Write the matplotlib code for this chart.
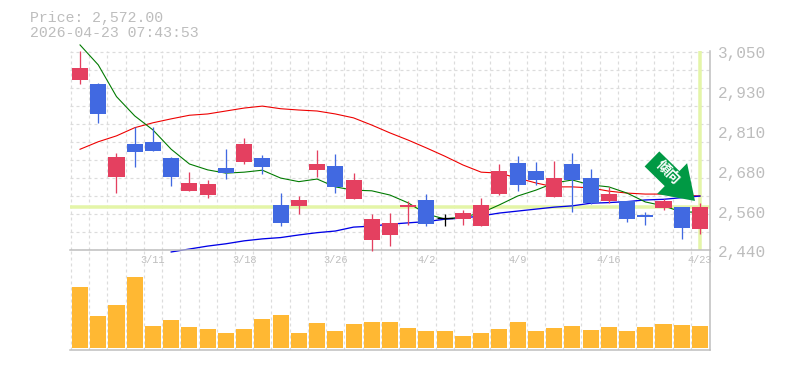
import numpy as np
import matplotlib
matplotlib.use("Agg")
import matplotlib.pyplot as plt
from matplotlib.patches import FancyArrow
from matplotlib.transforms import IdentityTransform

#daily candles, prices
dates = ["3/11", "3/18", "3/26", "4/2", "4/9", "4/16", "4/23"]
date_pos = [4, 9, 14, 19, 24, 29, 34]

opens = [2960, 2948, 2663, 2764, 2770, 2721, 2620, 2608, 2691, 2709, 2721, 2578,
         2575, 2685, 2697, 2596, 2471, 2486, 2571, 2593, 2538, 2535, 2513, 2611,
         2706, 2682, 2602, 2703, 2660, 2590, 2590, 2547, 2568, 2571, 2504]
closes = [2996, 2856, 2724, 2740, 2743, 2663, 2645, 2642, 2675, 2764, 2694, 2523,
          2593, 2703, 2633, 2654, 2535, 2523, 2578, 2519, 2538, 2553, 2578, 2682,
          2639, 2654, 2660, 2654, 2584, 2611, 2535, 2541, 2590, 2507, 2572]
highs = [3049, 2950, 2737, 2816, 2816, 2724, 2678, 2654, 2749, 2782, 2730, 2614,
         2605, 2746, 2734, 2675, 2550, 2553, 2590, 2611, 2550, 2562, 2599, 2703,
         2727, 2709, 2712, 2737, 2688, 2633, 2590, 2556, 2596, 2571, 2585]
lows = [2948, 2829, 2614, 2694, 2743, 2636, 2620, 2599, 2657, 2703, 2672, 2513,
        2550, 2663, 2614, 2596, 2437, 2452, 2516, 2513, 2513, 2516, 2513, 2608,
        2620, 2639, 2602, 2556, 2581, 2584, 2526, 2516, 2562, 2474, 2489]

ma_short = [3067, 3006, 2909, 2850, 2807, 2748, 2703, 2685, 2675, 2678, 2684, 2660,
            2649, 2657, 2633, 2623, 2621, 2608, 2584, 2550, 2535, 2541, 2553, 2578,
            2605, 2623, 2645, 2654, 2639, 2633, 2614, 2587, 2575, 2556, 2556]
ma_mid = [2748, 2771, 2789, 2814, 2829, 2841, 2852, 2856, 2865, 2874, 2880, 2872,
          2868, 2865, 2856, 2844, 2822, 2798, 2776, 2752, 2727, 2700, 2678, 2675,
          2660, 2645, 2633, 2633, 2630, 2620, 2614, 2611, 2611, 2608, 2605]
ma_long = [np.nan, np.nan, np.nan, np.nan, np.nan,
           2434, 2443, 2452, 2459, 2468, 2474, 2478, 2486, 2493, 2498, 2510, 2513,
           2519, 2523, 2527, 2534, 2538, 2544, 2553, 2559, 2565, 2571, 2575, 2583,
           2585, 2588, 2593, 2595, 2600, 2605]

volumes = [6100, 3200, 4300, 7100, 2200, 2800, 2100, 1900, 1500, 1900, 2900, 3300,
           1500, 2500, 1700, 2400, 2600, 2600, 2000, 1700, 1700, 1200, 1500, 1900,
           2600, 1700, 2000, 2200, 1800, 2100, 1700, 2100, 2400, 2300, 2200]

price_now = 2572
price_ticks = [3050, 2928, 2806, 2684, 2562, 2440]
price_labels = ["3,050", "2,930", "2,810", "2,680", "2,560", "2,440"]

W, H = 785, 370
GRAY = "#bdbdbd"
GRID = "#dcdcdc"
RED = "#e44060"
BLUE = "#4169e1"
MONO = "Liberation Mono"
px = 72 / 100  #one pixel in points

fig = plt.figure(figsize=(W / 100, H / 100), dpi=100, facecolor="white")
ax = fig.add_axes([70 / W, 1 - 250 / H, 640 / W, 199.5 / H])
vol = fig.add_axes([70 / W, 1 - 350 / H, 640 / W, 100 / H])

xmin, xmax = -0.55, 34.55
n = len(closes)
xs = np.arange(n)

for a in (ax, vol):
    a.set_xlim(xmin, xmax)
    a.patch.set_alpha(0)
    for s in ("top", "left"):
        a.spines[s].set_visible(False)
    for s in ("right", "bottom"):
        a.spines[s].set_color(GRAY)
        a.spines[s].set_linewidth(1.5 * px)
    a.set_axisbelow(True)
    a.set_xticks(np.r_[-0.5, xs[:-1] + 0.5])
    a.grid(True, axis="x", color=GRID, lw=1.2 * px, ls=(0, (2.5, 2.5)))
    a.tick_params(length=0, labelbottom=False, labelleft=False)

# price panel
ax.set_ylim(2440, 3050)
ax.set_yticks(np.arange(2440, 3050, 55))
ax.grid(True, axis="y", color=GRID, lw=1.2 * px, ls=(0, (2.5, 2.5)))

ax.axhline(price_now, color="#e4f5a8", lw=3.5 * px, zorder=1.5)
ax.axvline(34, color="#e4f5a8", lw=3.5 * px, zorder=1.5)

ax.plot(xs, ma_mid, color="#ee0000", lw=1.1 * px, zorder=2, clip_on=False)
ax.plot(xs, ma_long, color="#0000e6", lw=1.3 * px, zorder=2, clip_on=False)
ax.plot(xs, ma_short, color="#007a00", lw=1.1 * px, zorder=2, clip_on=False)

for i in range(n):
    o, c = opens[i], closes[i]
    col = RED if c > o else BLUE
    if c == o:
        col = "black"
    ax.vlines(i, lows[i], highs[i], color=col, lw=1.3 * px, zorder=3, clip_on=False)
    if c == o:
        ax.hlines(c, i - 0.44, i + 0.44, color=col, lw=1.3 * px, zorder=3)
    else:
        ax.bar(i, abs(c - o), bottom=min(o, c), width=0.88, color=col, lw=0, zorder=3)

for y, lab in zip(price_ticks, price_labels):
    ax.annotate(lab, xy=(1, y), xycoords=("axes fraction", "data"),
                xytext=(8, -3), textcoords="offset pixels", ha="left", va="center",
                fontsize=11.6, family=MONO, color=GRAY, annotation_clip=False)

for i, lab in zip(date_pos, dates):
    ax.annotate(lab, xy=(i, 0), xycoords=("data", "axes fraction"),
                xytext=(0, -10), textcoords="offset pixels", ha="center", va="center",
                fontsize=7.4, family=MONO, color=GRAY, annotation_clip=False)

# trend arrow, drawn in pixels
tip_x, tip_y = ax.transData.transform((34 - 5 / 18.2, 2590))
arrow = FancyArrow(tip_x - 43, tip_y + 42, 43, -42, width=21, head_width=43, head_length=32,
                   length_includes_head=True, color="#009944", lw=0,
                   transform=IdentityTransform(), zorder=5, clip_on=False)
ax.add_patch(arrow)
ax.annotate("傾向", xy=(tip_x - 28, tip_y + 28), xycoords="figure pixels",
            rotation=-45, rotation_mode="anchor", ha="center", va="center",
            fontsize=10, fontweight="bold", color="white",
            family=["Noto Sans CJK JP", "DejaVu Sans"], zorder=6, annotation_clip=False)

# volume panel
vol.set_ylim(-200, 9800)
vol.set_yticks([])
vol.bar(xs, volumes, width=0.88, color="#ffb833", lw=0, zorder=3)

fig.text(30 / W, 1 - 18 / H, "Price: 2,572.00", fontsize=10.75, family=MONO, color=GRAY,
         ha="left", va="center")
fig.text(30 / W, 1 - 33 / H, "2026-04-23 07:43:53", fontsize=10.75, family=MONO, color=GRAY,
         ha="left", va="center")

fig.savefig("out.png", dpi=100, facecolor="white")
